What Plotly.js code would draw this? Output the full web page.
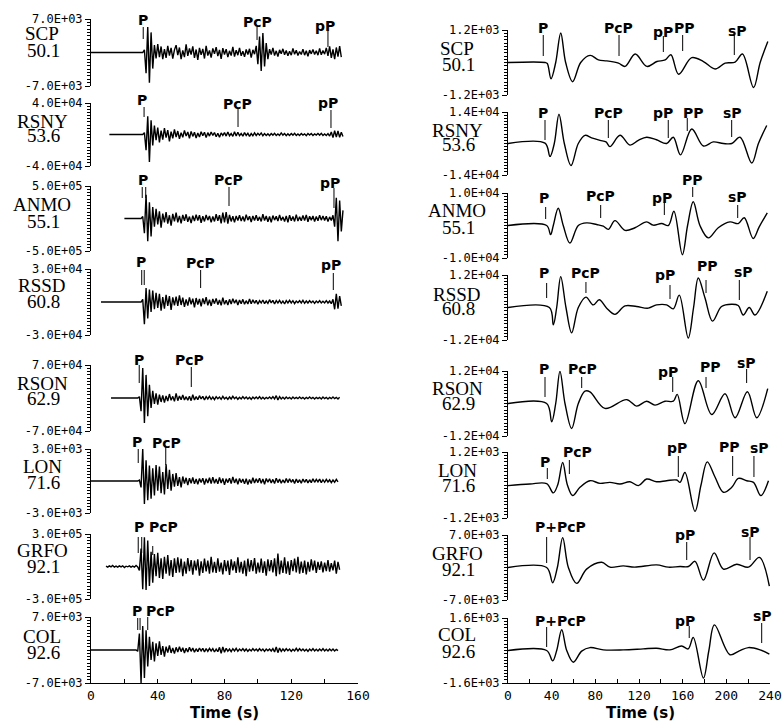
<!DOCTYPE html>
<html><head><meta charset="utf-8">
<script src="https://cdn.plot.ly/plotly-3.0.1.min.js"></script>
<style>html,body{margin:0;padding:0;background:#fff}#chart{width:783px;height:725px}</style>
</head><body><div id="chart"></div>
<script>
const W = 783, H = 725;

// ---------- DATA ----------
const stations = ["SCP","RSNY","ANMO","RSSD","RSON","LON","GRFO","COL"];
const distances = ["50.1","53.6","55.1","60.8","62.9","71.6","92.1","92.6"];

const leftScales = [7e3, 4e4, 5e5, 3e4, 7e4, 3e3, 3e5, 7e3];
const leftScaleLabels = ["7.0E+03","4.0E+04","5.0E+05","3.0E+04","7.0E+04","3.0E+03","3.0E+05","7.0E+03"];
const rightScales = [1.2e3, 1.4e4, 1.0e4, 1.2e4, 1.2e4, 1.2e3, 7.0e3, 1.6e3];
const rightScaleLabels = ["1.2E+03","1.4E+04","1.0E+04","1.2E+04","1.2E+04","1.2E+03","7.0E+03","1.6E+03"];

// Left: broadband records, one sample per second, amplitude in % of the panel scale
const leftDt = 1;
const leftStart = [0, 11, 20, 6, 12, 0, 9, 0];

const scpL = [0,0,0,0,0,0,0,0,0,0,0,0,0,0,0,0,0,0,0,0,0,0,0,0,0,0,0,0,0,0,0,0,
8,-62,76,-90,60,-48,
22,-18,25,-14,18,-20,10,-16,20,-9,14,-18,8,
22,-8,15,-20,6,-14,24,-10,12,-6,18,-16,9,-22,14,-7,11,-18,20,-9,
6,-15,12,-4,16,-11,8,-19,13,-6,10,-14,5,-9,17,-12,7,-8,14,-10,4,-13,9,-6,11,-15,8,-5,
20,-35,48,-55,58,-42,28,-20,
10,-6,14,-9,5,-12,8,-4,11,-7,6,-10,4,-8,12,-5,7,-9,3,-6,10,-8,5,-11,7,-4,9,-6,5,-8,12,-7,6,-5,
14,-10,18,-16,9,-20,15,-12,19,-14];

const rsnyL = [0,0,0,0,0,0,0,0,0,0,0,0,0,0,0,0,0,0,0,0,0,
6,-50,58,-87,45,-35,
28,-18,22,-25,12,-16,20,-10,14,-22,9,-12,16,
-8,11,-14,6,-9,13,-5,8,-12,10,-6,7,-11,5,-8,9,-4,7,-10,6,
-5,8,-3,6,-7,4,-9,5,-3,6,-5,8,-4,3,-6,9,-5,7,-4,3,-5,6,-3,4,-6,3,-4,5,
-3,4,-2,5,-4,3,-3,2,-4,3,-2,4,-3,2,-3,5,-2,3,-4,2,-3,3,-2,4,-3,2,-3,3,-2,2,-4,3,-2,3,-3,2,-2,3,-2,4,-3,2,-3,3,
-5,8,-10,12,-8,11,-9,7,-6];

const anmoL = [0,0,0,0,0,0,0,0,0,0,0,
6,-45,73,-70,50,-55,35,
-25,30,-18,22,-28,15,-12,20,-16,10,-22,14,-9,
18,-12,8,-15,11,-7,13,-10,6,-14,9,-8,12,-6,10,-13,7,-9,11,-5,
8,-12,6,-9,13,-7,10,-15,18,-12,20,-16,11,-9,7,-12,8,-6,10,-8,
6,-9,12,-5,7,-11,8,-6,10,-7,5,-9,13,-6,8,-10,6,-12,9,-5,7,-8,11,-6,5,-9,8,-12,10,-7,6,-9,12,-8,5,-7,9,-6,11,-10,7,-5,8,-9,6,-7,10,-5,8,-6,7,-9,5,-6,
10,-25,64,-70,55,-40,25];

const rssdL = [0,0,0,0,0,0,0,0,0,0,0,0,0,0,0,0,0,0,0,0,0,0,0,0,0,
8,-67,42,-50,38,-30,35,
-22,28,-18,25,-26,15,-20,22,-12,18,-24,14,-10,
16,-12,20,-9,13,-15,8,-11,14,-7,10,-16,12,-8,9,-13,11,-6,15,-10,
7,-12,9,-5,11,-8,6,-10,13,-7,5,-9,8,-6,10,-4,7,-9,6,-5,8,-7,4,-6,9,-5,7,-4,
5,-7,4,-3,6,-5,3,-4,7,-3,5,-6,4,-3,5,-4,3,-6,4,-3,5,-3,4,-5,3,-2,4,-3,5,-4,3,-3,4,-2,3,-4,3,-2,4,-3,2,-3,4,-3,3,-5,
8,-22,25,-20,18,-12];

const rsonL = [0,0,0,0,0,0,0,0,0,0,0,0,0,0,0,0,0,
4,-40,91,-76,70,-55,40,-30,
22,-18,14,-20,10,-12,8,-14,6,-9,12,-7,5,-10,
14,-8,6,-5,9,-6,4,-7,5,-8,10,-6,4,-5,7,-3,5,-6,4,-3,
5,-4,3,-5,4,-2,3,-4,5,-3,2,-4,3,-3,5,-2,3,-4,2,-3,
4,-2,3,-3,2,-4,3,-2,3,-2,4,-3,2,-3,2,-2,3,-2,4,-3,
7,-6,4,-3,2,-3,3,-2,2,-3,3,-2,2,-2,3,-2,2,-3,2,-2,
3,-2,2,-3,2,-2,2,-3,3,-2,2,-3,2,-2,3,-2,2,-3,2];

const lonL = [0,0,0,0,0,0,0,0,0,0,0,0,0,0,0,0,0,0,0,0,0,0,0,0,0,0,0,0,0,
3,-20,100,-72,65,-60,48,-55,
40,-45,50,-30,45,-38,28,-42,52,-25,35,-30,22,-18,
25,-15,12,-20,14,-8,10,-13,9,-7,11,-9,6,-10,8,-5,9,-11,7,-6,
10,-8,12,-7,6,-9,11,-6,8,-12,7,-5,9,-8,13,-6,7,-10,8,-5,
6,-9,7,-11,5,-8,10,-6,7,-5,9,-7,6,-10,8,-4,7,-6,5,-8,
9,-5,6,-7,4,-6,8,-5,7,-4,5,-8,6,-5,4,-7,6,-4,5,-6,
4,-5,7,-4,5,-3,6,-5,4,-4,5,-3,4,-5,3,-4,5,-3];

const grfoL = [1,-2,2,-1,3,-2,1,-2,2,-1,2,-3,1,-1,2,-2,1,-2,3,-1,
-12,55,-70,90,-72,80,-60,45,
-50,38,-30,42,-35,25,-38,30,-22,35,-28,20,-32,25,
-20,28,-18,24,-30,15,-22,26,-14,20,-25,18,-12,22,-28,16,-20,24,-15,18,
-22,30,-18,14,-20,25,-16,12,-24,20,-14,18,-26,22,-12,16,-20,28,-18,14,
-22,18,-30,24,-16,20,-14,26,-22,12,-18,24,-20,16,-28,22,-14,20,-18,25,
-30,40,-24,18,-20,28,-22,16,-26,20,-14,24,-18,30,-22,15,-20,18,-24,14,
-16,22,-12,18,-20,14,-10,16,-18,12,-14,20,-16,10,-12,18,-22,14,-10];

const colL = [0,0,0,0,0,0,0,0,0,0,0,0,0,0,0,0,0,0,0,0,0,0,0,0,0,0,0,0,
-4,50,-100,73,-85,60,-50,40,
-30,25,-35,20,-18,26,-15,12,-20,10,-8,14,-9,6,-11,
8,-6,10,-5,7,-9,5,-6,8,-4,6,-7,4,-5,6,-3,5,-6,4,-4,
5,-3,4,-6,3,-5,8,-10,9,-7,5,-4,3,-5,4,-3,5,-4,3,-2,
4,-3,3,-4,2,-3,4,-2,3,-3,4,-2,3,-4,3,-2,3,-3,4,-6,
9,-8,6,-4,3,-3,4,-2,3,-4,2,-3,5,-3,4,-2,3,-3,2,-4,
3,-2,4,-3,2,-3,3,-2,4,-3,2,-3,3,-2,3,-3,2,-2];

const leftVals = [scpL, rsnyL, anmoL, rssdL, rsonL, lonL, grfoL, colL];

// Right: long-period records, knots (time s, amplitude % of panel scale)
const scpRt = [0,34,36,39.4,43.7,48.3,52.8,59.2,66.6,75.2,82.8,90.5,101.2,107.3,116.5,127.2,136.4,144,149.2,156.3,168.3,179,189.7,198.9,208,214.8,224.9,231,238];
const scpRv = [0,0,-3,-50,0,91,0,-59,0,22,8,5,-2,-12,26,-12,3,8,24,-36,15,3,-20,-2,1,26,-77,0,65];
const rsnyRt = [0,33.9,38.5,42.4,46.7,51.6,57.7,64.4,70.5,76.6,84.3,89.8,93.4,102.6,111.7,119.4,127,136,145.3,151.4,158,168.3,179,188,197.3,205,212.6,223.3,229.4,237];
const rsnyRv = [0,1,-41,0,93,0,-70,0,26,18,10,5,-10,26,-5,10,20,12,0,20,-36,46,-8,5,0,0,20,-62,0,57];
const anmoRt = [0,35.4,39,41.5,46,50.6,56.7,64.4,72,81.2,87.3,91.9,98,107.2,116.3,127,133.1,140.7,146.9,152,159.7,164.5,169.7,175.8,183.5,192.6,203.3,210.9,216.4,224.6,230,237.5];
const anmoRv = [0,0,-28,0,53,0,-54,0,8,3,-2,-12,15,-15,-7,11,1,6,0,44,-90,0,73,0,-38,-7,11,6,24,-40,-5,39];
const rssdRt = [0,37.9,41.5,44.6,48.3,53.1,58.3,64.4,71.4,78.1,83.6,90.4,98,107.2,117.8,128.5,136.1,145.3,151.4,156.9,165.1,170,174.3,180.4,187.4,195.6,204.8,210.9,215.5,221,226.2,237.5];
const rssdRv = [0,0,-53,0,95,0,-78,0,32,8,24,-2,-21,5,3,-2,8,8,-4,38,-94,0,91,30,-42,3,10,6,-23,0,-23,50];
const rsonRt = [0,35.4,40,43.7,47.6,52.2,58.3,64.4,70.5,75.1,88.8,108.7,117.8,127,134.6,143.8,151.4,155,162.1,174.3,186.6,198.8,208,219.3,227.8,237.9];
const rsonRv = [0,0,-56,0,99,0,-77,0,38,36,-15,12,-8,7,-5,7,7,28,-62,70,-34,30,-44,36,-44,46];
const lonRt = [0,20,35.4,41.5,45.5,50.1,54.4,59.2,65.9,75.1,84.3,93.4,102.6,111.7,119.4,127,136.1,145.3,154.5,157.6,162.1,171.3,176.8,182.5,189.5,197.3,205,211,218.7,224.9,231.6,238.6];
const lonRv = [-2,3,4,-24,0,68,0,-32,-7,13,5,8,3,10,-2,18,10,13,15,8,38,-80,0,70,25,-22,-7,20,13,8,-32,13];
const grfoRt = [0,35.4,40.9,45.2,50.1,55.3,62.9,72,85.8,93.4,105.6,116,136.1,146.9,157.6,165.3,171.3,179,188.8,197.3,209.5,220.2,230.3,239.4];
const grfoRv = [0,0,-47,0,92,0,-49,-5,16,1,5,1,8,1,3,3,19,-39,45,-5,10,1,31,-57];
const colRt = [0,35.4,40.9,44.6,49.2,53.8,59.8,67.5,75.1,87.3,105.6,123.9,136.1,148.3,159,165.1,169.7,179,184,189.1,203.3,211.9,220.2,230.9,239.4];
const colRv = [0,0,-32,0,64,0,-36,-2,9,2,2,5,7,2,14,5,40,-85,0,79,-13,-1,9,2,-11];

const rightT = [scpRt, rsnyRt, anmoRt, rssdRt, rsonRt, lonRt, grfoRt, colRt];
const rightV = [scpRv, rsnyRv, anmoRv, rssdRv, rsonRv, lonRv, grfoRv, colRv];

// Phase picks (labels and times in s)
const leftPickLabels = [["P","PcP","pP"],["P","PcP","pP"],["P","PcP","pP"],["P","PcP","pP"],["P","PcP"],["P","PcP"],["P","PcP"],["P","PcP"]];
const leftPickTimes = [[[31.3],[99.5],[142]],[[31.8],[88.1],[143.8]],[[30.7,32.8],[82.7],[145.6]],[[30.4,31.9],[65.7],[145.2]],[[28.9],[60.1]],[[28.3],[44.8]],[[28.3,30.4],[37]],[[28,29.4],[34]]];
const rightPickLabels = [["P","PcP","pP","PP","sP"],["P","PcP","pP","PP","sP"],["P","PcP","pP","PP","sP"],["P","PcP","pP","PP","sP"],["P","PcP","pP","PP","sP"],["P","PcP","pP","PP","sP"],["P+PcP","pP","sP"],["P+PcP","pP","sP"]];
const rightPickTimes = [[[32.3],[101.7],[142.3],[160],[207.3]],[[33.9],[91.9],[146.8],[164.2],[204.9]],[[34.5],[84.9],[143.2],[169.2],[210.4]],[[35.4],[71.4],[148.4],[181.4],[211.9]],[[33.9],[67.5],[150.9],[181.4],[218.6]],[[36],[56.2],[156],[205.8],[225.3]],[[35.4],[163.7],[221.7]],[[35.4],[166],[232.4]]];

// ---------- LAYOUT GEOMETRY (pixels) ----------
const leftXpx = [91, 358], rightXpx = [508, 770];
const leftYpx = [[19,86],[103,166],[186,251],[269,335],[365,431],[449,513],[534,599],[617,683]];
const rightYpx = [[30,95],[112,175],[193,258],[275,340],[371,436],[452,518],[535,600],[618,683]];
const leftNameY = [33,122,204,286,383,466,550,636], leftNumY = [50,136,221,301,399,482,566,652];
const rightNameY = [49,130,211,294,388,470,553,634], rightNumY = [64,145,227,309,404,485,569,651];
// [lineTop, lineBottom, labelY, labelDx]
const leftPickGeom = [
 [[27,39,20,0],[27,40,22,0],[30,47,26,-3]],
 [[107,117,100,-2],[108,127,104,-1],[110,128,103,-3]],
 [[187,198,180,-1],[187,206,180,-1],[188,208,183,-4]],
 [[270,285,262,-2],[270,288,263,0],[273,290,265,-2]],
 [[365,383,360,0],[367,387,360,-2]],
 [[449,463,442,-1],[447,465,443,1]],
 [[537,553,527,-1],[537,555,527,11]],
 [[618,630,611,-2],[617,630,611,13]]
];
const leftPickDash = [[0,0,0],[0,0,0],[0,0,0],[0,0,0],[0,0],[0,0],[0,1],[0,0]];
const rightPickGeom = [
 [[35,56,28,0],[35,56,28,-1],[36,52,32,0],[35,51,28,2],[35,55,31,3]],
 [[120,140,113,-2],[120,138,113,0],[120,138,113,-5],[118,131,113,6],[120,137,113,1]],
 [[207,219,198,-2],[205,218,196,0],[202,215,198,-2],[187,197,180,0],[205,218,197,0]],
 [[283,298,273,-3],[282,293,273,0],[285,299,275,-5],[280,293,266,1],[280,300,272,4]],
 [[377,397,369,-1],[377,388,369,1],[377,392,372,-5],[377,388,367,4],[369,383,363,0]],
 [[468,479,462,-2],[460,474,452,8],[456,477,448,-1],[456,476,447,-3],[456,477,448,6]],
 [[537,563,527,14],[542,560,535,-2],[537,560,532,0]],
 [[627,647,621,14],[626,638,621,-4],[623,643,616,1]]
];

// ---------- BUILD ----------
const py = p => 1 - p / H;
const pxX = p => p / W;
const black = '#000';
const tickFont = {family: 'DejaVu Sans Mono, monospace', size: 12, color: black};
const nameFont = {family: 'Liberation Serif, serif', size: 19, color: black};
const pickFont = {family: 'DejaVu Sans, sans-serif', size: 14, color: black, weight: 700};

const traces = [];
const layout = {
  width: W, height: H, margin: {l: 0, r: 0, t: 0, b: 0},
  paper_bgcolor: '#fff', plot_bgcolor: 'rgba(0,0,0,0)', showlegend: false,
  shapes: [], annotations: []
};

function yAxis(dom, A, lbl, anchor) {
  return {
    domain: [py(dom[1]), py(dom[0])], range: [-A, A], anchor: anchor,
    showline: true, linecolor: black, linewidth: 1,
    ticks: 'outside', ticklen: 5, tickcolor: black, tickwidth: 1,
    tickmode: 'array', tickvals: [-A, A], ticktext: ['-' + lbl, lbl],
    tickfont: tickFont, showgrid: false, zeroline: false, fixedrange: true,
    minor: {ticks: 'outside', ticklen: 3, tickcolor: black, tickwidth: 1, tick0: 0, dtick: A / 10, showgrid: false}
  };
}

for (let i = 0; i < 8; i++) {
  const ly = 'y' + (i + 1), ry = 'y' + (i + 9);
  layout['yaxis' + (i === 0 ? '' : (i + 1))] = yAxis(leftYpx[i], leftScales[i], leftScaleLabels[i], 'x');
  layout['yaxis' + (i + 9)] = yAxis(rightYpx[i], rightScales[i], rightScaleLabels[i], 'x2');

  const vals = leftVals[i];
  traces.push({
    type: 'scatter', mode: 'lines', xaxis: 'x', yaxis: ly,
    x: vals.map((v, k) => leftStart[i] + k * leftDt),
    y: vals.map(v => v / 100 * leftScales[i]),
    line: {color: black, width: 1.4}, hoverinfo: 'skip'
  });
  traces.push({
    type: 'scatter', mode: 'lines', xaxis: 'x2', yaxis: ry,
    x: rightT[i], y: rightV[i].map(v => v / 100 * rightScales[i]),
    line: {color: black, width: 1.4, shape: 'spline', smoothing: 1}, hoverinfo: 'skip'
  });

  layout.annotations.push({xref: 'paper', yref: 'paper', x: pxX(42), y: py(leftNameY[i]), text: stations[i], showarrow: false, font: nameFont, xanchor: 'center', yanchor: 'middle'});
  layout.annotations.push({xref: 'paper', yref: 'paper', x: pxX(43), y: py(leftNumY[i]), text: distances[i], showarrow: false, font: nameFont, xanchor: 'center', yanchor: 'middle'});
  layout.annotations.push({xref: 'paper', yref: 'paper', x: pxX(457), y: py(rightNameY[i]), text: stations[i], showarrow: false, font: nameFont, xanchor: 'center', yanchor: 'middle'});
  layout.annotations.push({xref: 'paper', yref: 'paper', x: pxX(458), y: py(rightNumY[i]), text: distances[i], showarrow: false, font: nameFont, xanchor: 'center', yanchor: 'middle'});

  const addPicks = (xref, labels, times, geom, dash) => {
    labels.forEach((lab, j) => {
      const g = geom[j];
      times[j].forEach(t => layout.shapes.push({type: 'line', xref: xref, yref: 'paper', x0: t, x1: t, y0: py(g[1]), y1: py(g[0]), line: {color: black, width: 1, dash: (dash && dash[j]) ? 'dash' : 'solid'}}));
      const mx = times[j].reduce((a, b) => a + b, 0) / times[j].length;
      layout.annotations.push({xref: xref, yref: 'paper', x: mx, y: py(g[2]), xshift: g[3], text: lab, showarrow: false, font: pickFont, xanchor: 'center', yanchor: 'middle'});
    });
  };
  addPicks('x', leftPickLabels[i], leftPickTimes[i], leftPickGeom[i], leftPickDash[i]);
  addPicks('x2', rightPickLabels[i], rightPickTimes[i], rightPickGeom[i], null);
}

function xAxis(dom, rng, vals, anchor) {
  return {
    domain: [pxX(dom[0]), pxX(dom[1])], range: rng, anchor: anchor,
    showline: true, linecolor: black, linewidth: 1,
    ticks: 'inside', ticklen: 4, tickcolor: black, tickmode: 'array', tickvals: vals,
    tickfont: {family: 'DejaVu Sans Mono, monospace', size: 13, color: black},
    showgrid: false, zeroline: false, fixedrange: true,
    minor: {ticks: 'inside', ticklen: 4, tickcolor: black, tick0: 0, dtick: 20, showgrid: false}
  };
}
layout.xaxis = xAxis(leftXpx, [0, 160], [0, 40, 80, 120, 160], 'y8');
layout.xaxis2 = xAxis(rightXpx, [0, 240], [0, 40, 80, 120, 160, 200, 240], 'y16');

const timeFont = {family: 'DejaVu Sans, sans-serif', size: 15, color: black, weight: 700};
layout.annotations.push({xref: 'paper', yref: 'paper', x: pxX(224), y: py(713), text: 'Time (s)', showarrow: false, font: timeFont, xanchor: 'center', yanchor: 'middle'});
layout.annotations.push({xref: 'paper', yref: 'paper', x: pxX(640), y: py(713), text: 'Time (s)', showarrow: false, font: timeFont, xanchor: 'center', yanchor: 'middle'});

Plotly.newPlot('chart', traces, layout, {displayModeBar: false, staticPlot: true});
</script>
</body></html>
